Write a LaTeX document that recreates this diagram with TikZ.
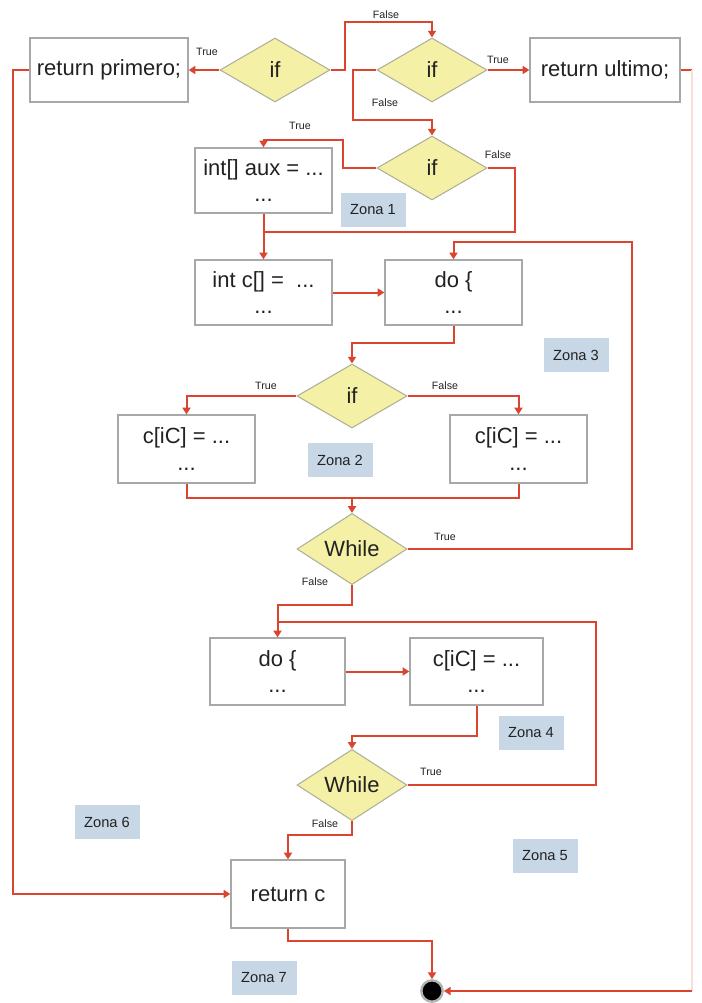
\documentclass[tikz,border=0pt]{standalone}
\usepackage{fontspec}
\setmainfont{Liberation Sans}
\usetikzlibrary{shapes.geometric,arrows.meta}
\definecolor{lred}{HTML}{D9452F}
\definecolor{pale}{HTML}{FBDDD5}
\definecolor{boxgray}{HTML}{A8A8A8}
\definecolor{decgray}{HTML}{B0B09A}
\definecolor{decfill}{HTML}{F4F0A6}
\definecolor{zfill}{HTML}{C7D7E6}
\definecolor{txt}{HTML}{222222}
\begin{document}
\begin{tikzpicture}[x=0.75pt,y=-0.75pt,
  box/.style={draw=boxgray, line width=1pt, fill=white, inner sep=0pt, align=center,
    font=\fontsize{16.5}{20}\selectfont, text=txt},
  dec/.style={diamond, draw=decgray, fill=decfill, line width=0.8pt, minimum width=82.5pt,
    minimum height=48pt, inner sep=0pt, font=\fontsize{16.5}{17}\selectfont, text=txt},
  lbl/.style={font=\fontsize{8}{9}\selectfont, text=txt, inner sep=0pt},
  zona/.style={fill=zfill, minimum width=48.75pt, minimum height=25.5pt,
    font=\fontsize{11}{12}\selectfont, text=txt, inner sep=0pt},
  conn/.style={draw=lred, line width=1.5pt},
  flow/.style={conn, -{Triangle[length=5pt,width=6pt]}},
  paleline/.style={draw=pale, line width=1.5pt}
]
\useasboundingbox[fill=white] (0,0) rectangle (701,1003);

% nodes
\node[box, minimum width=118.5pt, minimum height=48pt] (rp) at (109,70) {return primero;};
\node[box, minimum width=112.5pt, minimum height=48pt] (ru) at (605,70) {return ultimo;};
\node[dec] (if1) at (275,70) {if};
\node[dec] (if2) at (432,70) {if};
\node[dec] (if3) at (432,168) {if};
\node[box, minimum width=102.75pt, minimum height=48.75pt] (aux) at (263.5,180.5) {int[] aux = ...\\...};
\node[box, minimum width=102.75pt, minimum height=48.75pt] (intc) at (263.5,292.5) {int c[] =~ ...\\...};
\node[box, minimum width=102.75pt, minimum height=48.75pt] (do1) at (453.5,292.5) {do \{\\...};
\node[dec] (if4) at (352,396) {if};
\node[box, minimum width=102.75pt, minimum height=51pt] (cl) at (186.5,449) {c[iC] = ...\\...};
\node[box, minimum width=102.75pt, minimum height=51pt] (cr) at (518.5,449) {c[iC] = ...\\...};
\node[dec] (wh1) at (352,549) {While};
\node[box, minimum width=101.25pt, minimum height=50.25pt] (do2) at (277.5,671.5) {do \{\\...};
\node[box, minimum width=99.75pt, minimum height=50.25pt] (c2) at (476.5,671.5) {c[iC] = ...\\...};
\node[dec] (wh2) at (352,785) {While};
\node[box, minimum width=85.5pt, minimum height=51pt] (rc) at (288,894) {return c};
\node[circle, fill=black, draw=gray!60, line width=1.8pt, minimum size=16pt, inner sep=0pt] (end) at (432,991) {};

% zones
\node[zona] (z1) at (373,210) {Zona 1};
\node[zona] (z2) at (340,460) {Zona 2};
\node[zona] (z3) at (576,355) {Zona 3};
\node[zona] (z4) at (531,733) {Zona 4};
\node[zona] (z5) at (545,856) {Zona 5};
\node[zona] (z6) at (107,822) {Zona 6};
\node[zona] (z7) at (264,978) {Zona 7};

% labels
\node[lbl] (l1) at (207,52) {True};
\node[lbl] (l2) at (386,15) {False};
\node[lbl] (l3) at (498,60) {True};
\node[lbl] (l4) at (385,103) {False};
\node[lbl] (l5) at (300,126) {True};
\node[lbl] (l6) at (498,155) {False};
\node[lbl] (l7) at (266,386) {True};
\node[lbl] (l8) at (445,386) {False};
\node[lbl] (l9) at (445,537) {True};
\node[lbl] (l10) at (315,582) {False};
\node[lbl] (l11) at (431,772) {True};
\node[lbl] (l12) at (325,824) {False};

% helper coordinates
\coordinate (a1) at (345,22);
\coordinate (a2) at (353,120);
\coordinate (a3) at (343,140);
\coordinate (a4) at (515,232);
\coordinate (j1) at (263.5,232);
\coordinate (a5) at (632,242);
\coordinate (j2) at (352,498);
\coordinate (a6) at (596,622);
\coordinate (j3) at (277.5,622);
\coordinate (a7) at (13,894);
\coordinate (r1) at (692,70);
\coordinate (r2) at (692,991);

% connectors
\draw[flow] (if1.west) -- (rp.east);
\draw[flow] (if1.east) -| (a1) -| (if2.north);
\draw[flow] (if2.east) -- (ru.west);
\draw[flow] (if2.west) -| (a2) -| (if3.north);
\draw[flow] (if3.west) -| (a3) -| (aux.north);
\draw[conn] (if3.east) -| (a4) -- (j1);
\draw[flow] (aux.south) -- (intc.north);
\draw[flow] (intc.east) -- (do1.west);
\draw[flow] (do1.south) -- ++(0,17) -| (if4.north);
\draw[flow] (if4.west) -| (cl.north);
\draw[flow] (if4.east) -| (cr.north);
\draw[conn] (cl.south) |- (j2) -| (cr.south);
\draw[flow] (j2) -- (wh1.north);
\draw[flow] (wh1.east) -| (a5) -| (do1.north);
\draw[flow] (wh1.south) -- ++(0,20) -| (do2.north);
\draw[flow] (do2.east) -- (c2.west);
\draw[flow] (c2.south) -- ++(0,30) -| (wh2.north);
\draw[conn] (wh2.east) -| (a6) -- (j3);
\draw[flow] (wh2.south) -- ++(0,14) -| (rc.north);
\draw[flow] (rp.west) -| (a7) -- (rc.west);
\draw[flow] (rc.south) -- ++(0,12) -| (end.north);
\draw[conn] (ru.east) -- (r1);
\draw[paleline] (r1) -- (r2);
\draw[flow] (r2) -- (end.east);
\end{tikzpicture}
\end{document}
